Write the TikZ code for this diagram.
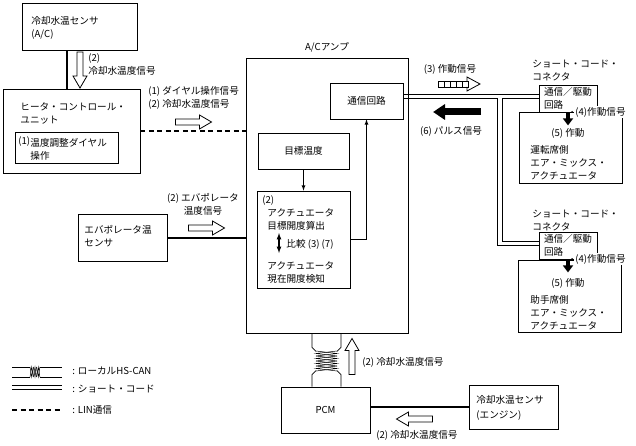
\documentclass[tikz,border=0pt]{standalone}
\usepackage{fontspec}
\setmainfont{Noto Sans CJK JP}
\usetikzlibrary{calc,shapes,arrows,arrows.meta,positioning}

\begin{document}
\begin{tikzpicture}[x=1pt,y=-1pt,line width=0.8pt,
        font=\fontsize{9.6}{13}\selectfont,
        box/.style={draw,rectangle,inner sep=0pt,fill=white},
        txt/.style={inner sep=0pt,align=left,anchor=west},
        heavy/.style={line width=2pt},
        lin/.style={line width=1.6pt,dash pattern=on 5pt off 3.5pt},
        blk/.style={line width=4pt,-{Triangle[length=7pt,width=10pt]}},
        twist/.style={line width=0.5pt},
        harrow/.pic={\draw[line width=0.8pt,fill=white] (-18,-3) -- (6,-3) -- (6,-7)
            -- (18,0) -- (6,7) -- (6,3) -- (-18,3) -- cycle;}]
        \useasboundingbox (0,0) rectangle (636,446);

        % heater control side
        \node[box,minimum width=115pt,minimum height=47pt] (ccsac) at (79.5,26.5) {};
        \node[txt] at (31,28) {冷却水温センサ\\(A/C)};
        \node[box,minimum width=137pt,minimum height=84pt] (hcu) at (71.5,131) {};
        \node[txt] at (20,113) {ヒータ・コントロール・\\ユニット};
        \node[box,minimum width=103pt,minimum height=31pt] (dial) at (66.5,147.5) {};
        \node[txt] at (18,142) {(1)};
        \node[txt] at (30,149) {温度調整ダイヤル\\操作};
        \coordinate (t1) at ([xshift=-12.5pt]ccsac.south);
        \draw[heavy] (t1) -- (t1 |- hcu.north);
        \pic[rotate=-90] at (80,70) {harrow};
        \node[txt] at (88,64) {(2)\\冷却水温度信号};

        % A/C amp
        \node[box,minimum width=162pt,minimum height=275pt] (amp) at (327,195.5) {};
        \node[above=5pt,inner sep=0pt] at (amp.north) {A/Cアンプ};
        \draw[lin] (hcu.east) -- (hcu.east -| amp.west);
        \node[txt] at (148,98) {(1) ダイヤル操作信号\\(2) 冷却水温度信号};
        \pic at (193.5,122) {harrow};
        \node[box,minimum width=73pt,minimum height=36pt] (comm) at (366.5,101) {通信回路};
        \node[box,minimum width=91pt,minimum height=36pt] (target) at (303.5,151) {目標温度};
        \node[box,minimum width=93pt,minimum height=97pt] (act) at (303.5,239.5) {};
        \node[txt] at (262,201) {(2)};
        \node[txt] at (267,219) {アクチュエータ\\目標開度算出};
        \node[txt] at (286,244) {比較 (3) (7)};
        \node[txt] at (267,273) {アクチュエータ\\現在開度検知};
        \draw[latex-latex,line width=1.2pt] (279,233) -- (279,253);
        \draw[-latex] (target) -- (act);
        \draw[-latex] (act.east) -| (comm.south);

        % evaporator
        \node[box,minimum width=89pt,minimum height=47pt] (evap) at (122.5,237.5) {};
        \node[txt] at (84,236) {エバポレータ温\\センサ};
        \draw[heavy] (evap.east) -- (evap.east -| amp.west);
        \node[align=center,inner sep=0pt] at (203,204) {(2) エバポレータ\\温度信号};
        \pic at (206.5,228) {harrow};

        % short code connectors
        \node[box,minimum width=103pt,minimum height=71pt] (mix1) at (570.5,147.5) {};
        \node[box,minimum width=58pt,minimum height=27pt,align=left] (drv1) at (568,98.5) {通信／駆動\\回路};
        \node[txt] at (532,70.5) {ショート・コード・\\コネクタ};
        \node[inner sep=0pt] at (568,133) {(5) 作動};
        \node[txt] at (530,163) {運転席側\\エア・ミックス・\\アクチュエータ};
        \draw[blk] (drv1.south) -- ++(0,13);
        \node[txt,fill=white,inner sep=1pt] at (574,112) {(4)作動信号};
        \fill (572,112) circle (1pt);

        \node[box,minimum width=103pt,minimum height=72pt] (mix2) at (569.5,296) {};
        \node[box,minimum width=58pt,minimum height=27pt,align=left] (drv2) at (568,245.5) {通信／駆動\\回路};
        \node[txt] at (532,220) {ショート・コード・\\コネクタ};
        \node[inner sep=0pt] at (568,283) {(5) 作動};
        \node[txt] at (530,313) {助手席側\\エア・ミックス・\\アクチュエータ};
        \draw[blk] (drv2.south) -- ++(0,13);
        \node[txt,fill=white,inner sep=1pt] at (574,259) {(4)作動信号};
        \fill (572,259) circle (1pt);

        \coordinate (ja) at (497,0);
        \coordinate (jb) at (502,0);
        \coordinate (u1) at ([yshift=4pt]drv1.west);
        \coordinate (l1) at ([yshift=4pt]drv2.west);
        \draw (comm.east |- u1) -- (u1);
        \draw (comm.east |- drv1.west) -- (ja |- drv1.west) -- (ja |- drv2.west) -- (drv2.west);
        \draw (drv1.west) -- (jb |- drv1.west) -- (jb |- l1) -- (l1);

        \node[inner sep=0pt] at (450,69) {(3) 作動信号};
        \foreach \i in {0,...,4}
        \draw (438+6*\i,81) rectangle ++(6,6);
        \draw (467,81) -- (467,77) -- (480,84) -- (467,91) -- (467,87);
        \draw[line width=7pt,-{Triangle[length=12pt,width=15pt]}] (481,112) -- (433,112);
        \node[inner sep=0pt] at (451,131) {(6) パルス信号};

        % PCM side
        \node[box,minimum width=89pt,minimum height=46pt] (pcm) at (325.5,410) {PCM};
        \node[box,minimum width=89pt,minimum height=44pt] (ecs) at (513.5,407) {};
        \node[txt,font=\fontsize{9.6}{15}\selectfont] at (476,408) {冷却水温センサ\\(エンジン)};
        \draw[heavy] (ecs.west) -- (ecs.west -| pcm.east);
        \pic[rotate=180] at (414.5,419) {harrow};
        \node[inner sep=0pt] at (417,435) {(2) 冷却水温度信号};
        \pic[rotate=90] at (352,356.5) {harrow};
        \node[txt] at (362,362) {(2) 冷却水温度信号};

        \coordinate (tl) at (312,0);
        \coordinate (tr) at (341,0);
        \draw (tl |- amp.south) -- ++(0,14) -- ++(4,4);
        \draw (tr |- amp.south) -- ++(0,14) -- ++(-4,4);
        \draw (tl |- pcm.north) -- ++(0,-12) -- ++(4,-4);
        \draw (tr |- pcm.north) -- ++(0,-12) -- ++(-4,-4);
        \foreach \k in {0,...,3} {
            \draw[twist] (316,351+5*\k) -- (337,353.5+5*\k) -- (316,356+5*\k);
            \draw[twist] (337,351+5*\k) -- (316,353.5+5*\k) -- (337,356+5*\k);
        }

        % legend
        \draw (12,367) -- (30,367) (40,367) -- (62,367) (12,377) -- (30,377) (40,377) -- (62,377);
        \foreach \k in {0,3.3,6.6} {
            \draw[twist] (30+\k,367) -- (31.7+\k,377) -- (33.3+\k,367);
            \draw[twist] (30+\k,377) -- (31.7+\k,367) -- (33.3+\k,377);
        }
        \node[txt] at (72,371) {: ローカルHS-CAN};
        \draw[double,double distance=2.5pt] (12,387.5) -- (62,387.5);
        \node[txt] at (72,389) {: ショート・コード};
        \draw[lin] (12,410) -- (62,410);
        \node[txt] at (72,410) {: LIN通信};
    \end{tikzpicture}
\end{document}
